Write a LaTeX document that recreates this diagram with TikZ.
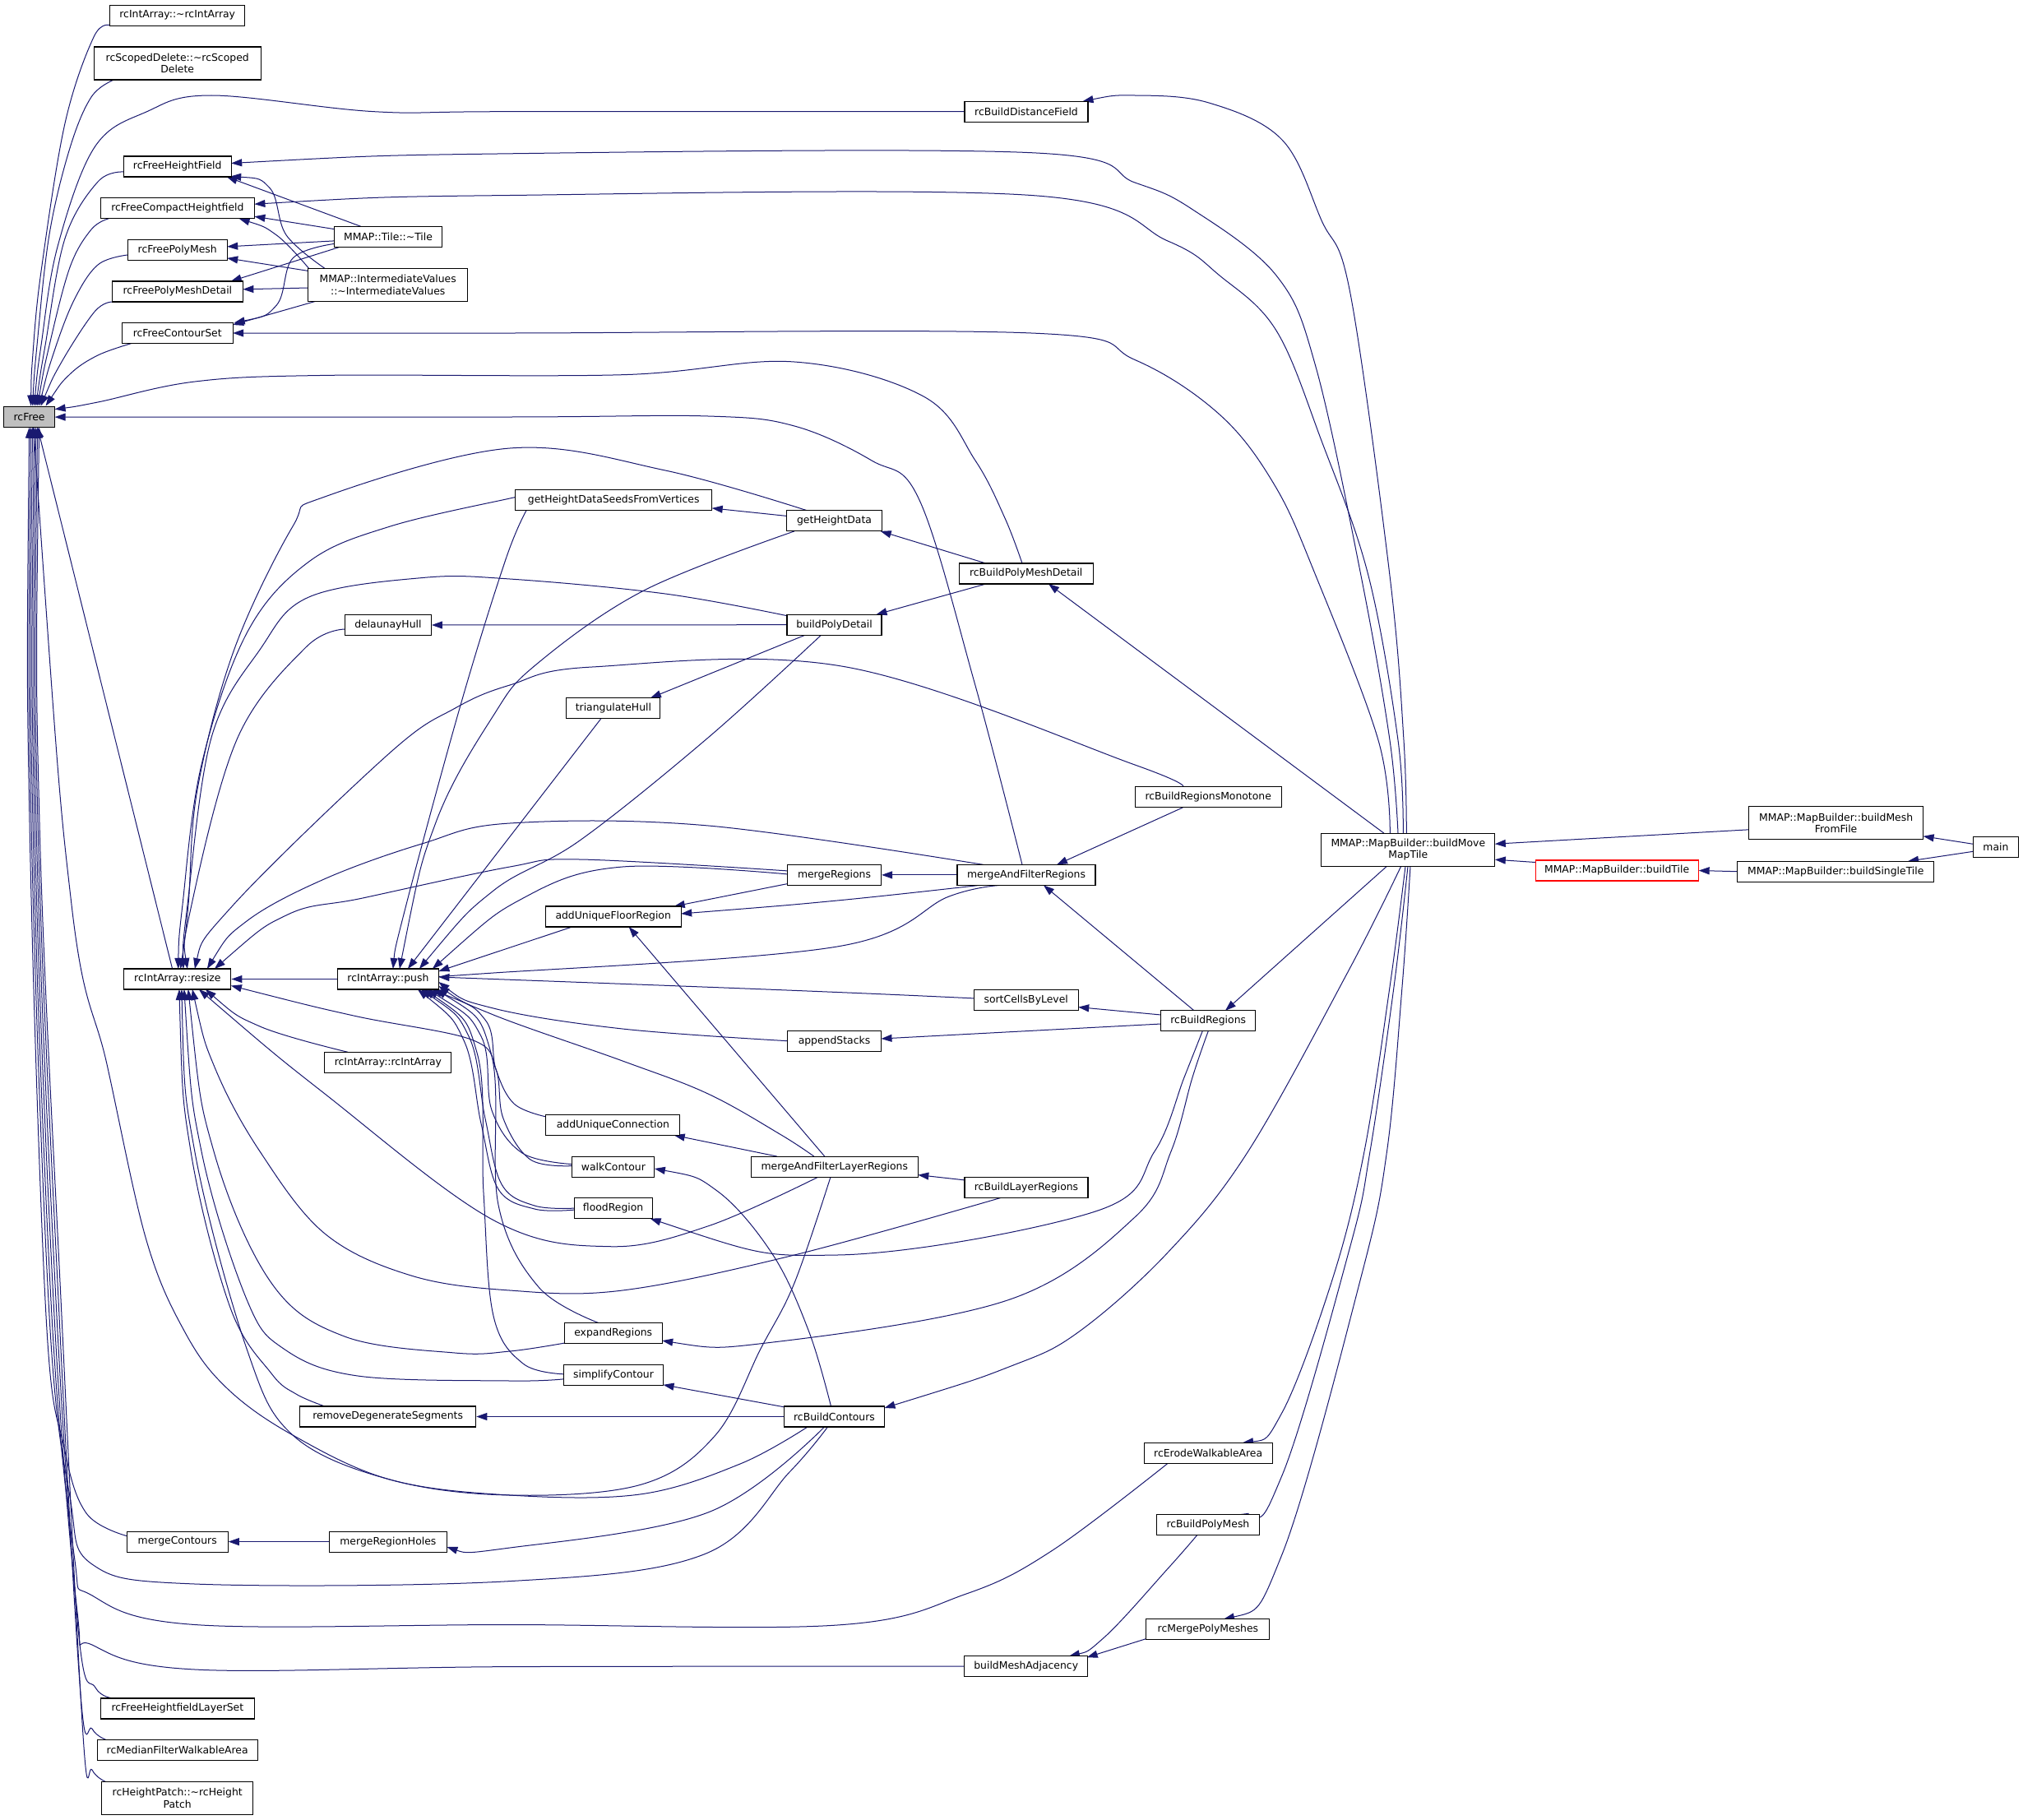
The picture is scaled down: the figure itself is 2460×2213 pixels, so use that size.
\documentclass[tikz,border=0pt]{standalone}
\usepackage{fontspec}
\newfontfamily\dvs{DejaVu Sans}
\usetikzlibrary{arrows.meta}
\definecolor{edgecol}{HTML}{191970}
\definecolor{boxfill}{HTML}{BFBFBF}
\pgfdeclarelayer{bg}
\pgfsetlayers{bg,main}
\begin{document}
\begin{tikzpicture}[x=1pt,y=-1pt,
  box/.style={draw=black, line width=1.1pt, fill=white, inner sep=0pt, minimum height=25pt, align=center, font=\dvs\fontsize{12.4}{14.6}\selectfont},
  cedge/.style={draw=edgecol, line width=1pt, line join=round, {Triangle[length=13pt,width=9pt]}-},
  sm/.style={smooth, tension=0.6}
]
\useasboundingbox (0,0) rectangle (2460,2213);

% nodes
\node[box,fill=boxfill,minimum width=62pt] (rcFree) at (35.6,506.6) {rcFree};
\node[box,minimum width=164pt] (dtorIA) at (215.7,18.6) {rcIntArray::\textasciitilde rcIntArray};
\node[box,minimum width=203pt,minimum height=40pt] (dtorSD) at (215.7,77) {rcScopedDelete::\textasciitilde rcScoped\\Delete};
\node[box,minimum width=131pt] (fHF) at (215.7,202.5) {rcFreeHeightField};
\node[box,minimum width=187pt] (fCHF) at (215.9,253.2) {rcFreeCompactHeightfield};
\node[box,minimum width=121pt] (fPM) at (215.7,303.9) {rcFreePolyMesh};
\node[box,minimum width=159pt] (fPMD) at (215.9,354.5) {rcFreePolyMeshDetail};
\node[box,minimum width=135pt] (fCS) at (215.7,405) {rcFreeContourSet};
\node[box,minimum width=131pt] (tile) at (472,287.9) {MMAP::Tile::\textasciitilde Tile};
\node[box,minimum width=194pt,minimum height=40pt] (iv) at (471.7,346.4) {MMAP::IntermediateValues\\::\textasciitilde IntermediateValues};
\node[box,minimum width=150pt] (bDF) at (1248,135.7) {rcBuildDistanceField};
\node[box,minimum width=239pt] (ghds) at (746.2,607.9) {getHeightDataSeedsFromVertices};
\node[box,minimum width=116pt] (ghd) at (1014.5,633.4) {getHeightData};
\node[box,minimum width=163pt] (bPMD) at (1247.7,697.5) {rcBuildPolyMeshDetail};
\node[box,minimum width=105pt] (dH) at (471.9,760) {delaunayHull};
\node[box,minimum width=115pt] (bPD) at (1014.5,759.7) {buildPolyDetail};
\node[box,minimum width=114pt] (tH) at (745.9,861.2) {triangulateHull};
\node[box,minimum width=178pt] (bRM) at (1469.2,969.3) {rcBuildRegionsMonotone};
\node[box,minimum width=114pt] (mR) at (1014.5,1063.9) {mergeRegions};
\node[box,minimum width=168pt] (mAFR) at (1248,1063.9) {mergeAndFilterRegions};
\node[box,minimum width=165pt] (aUFR) at (745.7,1114.5) {addUniqueFloorRegion};
\node[box,minimum width=130pt] (resize) at (215.9,1190.5) {rcIntArray::resize};
\node[box,minimum width=123pt] (push) at (471.9,1190.5) {rcIntArray::push};
\node[box,minimum width=127pt] (sCBL) at (1247.7,1215.9) {sortCellsByLevel};
\node[box,minimum width=115pt] (bR) at (1469.2,1241.3) {rcBuildRegions};
\node[box,minimum width=114pt] (aS) at (1014.5,1266.4) {appendStacks};
\node[box,minimum width=154pt] (ctor) at (471.9,1291.8) {rcIntArray::rcIntArray};
\node[box,minimum width=163pt] (aUC) at (745.4,1367.9) {addUniqueConnection};
\node[box,minimum width=100pt] (wC) at (745.9,1418.6) {walkContour};
\node[box,minimum width=203pt] (mAFLR) at (1014.8,1418.6) {mergeAndFilterLayerRegions};
\node[box,minimum width=150pt] (bLR) at (1248,1443.9) {rcBuildLayerRegions};
\node[box,minimum width=95pt] (fR) at (745.6,1469.1) {floodRegion};
\node[box,minimum width=119pt] (eR) at (745.7,1621.1) {expandRegions};
\node[box,minimum width=121pt] (sC) at (746,1671.8) {simplifyContour};
\node[box,minimum width=214pt] (rDS) at (471.7,1722.5) {removeDegenerateSegments};
\node[box,minimum width=122pt] (bC) at (1014.5,1722.5) {rcBuildContours};
\node[box,minimum width=156pt] (eWA) at (1469.2,1766.7) {rcErodeWalkableArea};
\node[box,minimum width=125pt] (bPM) at (1468.9,1854) {rcBuildPolyMesh};
\node[box,minimum width=123pt] (mC) at (215.7,1874.6) {mergeContours};
\node[box,minimum width=143pt] (mRH) at (471.9,1874.6) {mergeRegionHoles};
\node[box,minimum width=150pt] (mPM) at (1468.9,1981.2) {rcMergePolyMeshes};
\node[box,minimum width=150pt] (bMA) at (1247.7,2026.2) {buildMeshAdjacency};
\node[box,minimum width=187pt] (fHLS) at (215.9,2077.5) {rcFreeHeightfieldLayerSet};
\node[box,minimum width=195pt] (mFWA) at (215.7,2127.7) {rcMedianFilterWalkableArea};
\node[box,minimum width=184pt,minimum height=40pt] (hP) at (215.7,2186.5) {rcHeightPatch::\textasciitilde rcHeight\\Patch};
\node[box,minimum width=211pt,minimum height=40pt] (bMMT) at (1712.3,1033.2) {MMAP::MapBuilder::buildMove\\MapTile};
\node[box,draw=red,minimum width=198pt] (bT) at (1966.1,1058.5) {MMAP::MapBuilder::buildTile};
\node[box,minimum width=212pt,minimum height=40pt] (bMFF) at (2232.6,1000.8) {MMAP::MapBuilder::buildMesh\\FromFile};
\node[box,minimum width=239pt] (bST) at (2232.3,1059.7) {MMAP::MapBuilder::buildSingleTile};
\node[box,minimum width=55pt] (main) at (2426.9,1030.3) {main};

\begin{pgfonlayer}{bg}
\fill[white] (0,0) rectangle (2460,2213);
% ---- rcFree callers
\draw[cedge] plot[sm] coordinates {([shift={(2,-13)}]rcFree.center) (40,430) (50,330) (79,150) (114,45) ([shift={(-81,12.5)}]dtorIA.center)};
\draw[cedge] plot[sm] coordinates {([shift={(4,-13)}]rcFree.center) (45,420) (60,285) (85,180) (111,118) ([shift={(-77,20)}]dtorSD.center)};
\draw[cedge] plot[sm] coordinates {([shift={(6,-13)}]rcFree.center) (50,420) (70,300) (115,179) (178,136) (257,116) (455,135.7) (620,135.7) ([shift={(-75,0)}]bDF.center)};
\draw[cedge] plot[sm] coordinates {([shift={(8,-13)}]rcFree.center) (55,420) (79,290) (119,221) ([shift={(-65.4,6.5)}]fHF.center)};
\draw[cedge] plot[sm] coordinates {([shift={(10,-13)}]rcFree.center) (60,420) (85,325) (111,279) ([shift={(-83.4,12.5)}]fCHF.center)};
\draw[cedge] plot[sm] coordinates {([shift={(12,-13)}]rcFree.center) (65,430) (90,365) (119,322) ([shift={(-60.7,6.1)}]fPM.center)};
\draw[cedge] plot[sm] coordinates {([shift={(14,-13)}]rcFree.center) (75,440) (115,379) ([shift={(-79.5,12.5)}]fPMD.center)};
\draw[cedge] plot[sm] coordinates {([shift={(20,-13)}]rcFree.center) (85,455) (119,432) ([shift={(-55.7,12.5)}]fCS.center)};
\draw[cedge] plot[sm] coordinates {([shift={(31,-9)}]rcFree.center) (119,489) (237,464) (395,456.4) (757,455.7) (966,440) (1123,482) (1186,560) (1222,630) ([shift={(-4.7,-12.5)}]bPMD.center)};
\draw[cedge] plot[sm] coordinates {([shift={(31,0.5)}]rcFree.center) (620,507) (861,506) (966,518) (1060,560) (1118,608) (1185,830) ([shift={(-5,-12.5)}]mAFR.center)};
\draw[cedge] ([shift={(10,13)}]rcFree.center) -- ([shift={(-6.3,-12.5)}]resize.center);
\draw[cedge] plot[sm] coordinates {([shift={(0,13)}]rcFree.center) (36,1000) (56,1600) (78,1760) (105,1840) ([shift={(-61.5,-7)}]mC.center)};
\draw[cedge] plot[sm] coordinates {([shift={(2,13)}]rcFree.center) (38,1000) (60,1600) (85,1820) (112,1902) (237,1926) (620,1922.6) (856,1890) (960,1790) ([shift={(-8,12.5)}]bC.center)};
\draw[cedge] plot[sm] coordinates {([shift={(4,13)}]rcFree.center) (40,1000) (63,1600) (90,1890) (112,1940) (237,1975.5) (620,1975.5) (1018,1976) (1175,1938) (1280,1885) ([shift={(-49,12.5)}]eWA.center)};
\draw[cedge] plot[sm] coordinates {([shift={(6,13)}]rcFree.center) (42,1000) (66,1600) (94,1960) (112,2000) (237,2030) (620,2026.6) ([shift={(-75,0)}]bMA.center)};
\draw[cedge] plot[sm] coordinates {([shift={(8,13)}]rcFree.center) (44,1000) (69,1600) (96,1990) (116,2052) ([shift={(-77.5,-12.5)}]fHLS.center)};
\draw[cedge] plot[sm] coordinates {([shift={(10,13)}]rcFree.center) (46,1000) (72,1600) (98,2060) (112,2102) ([shift={(-87.2,-12.5)}]mFWA.center)};
\draw[cedge] plot[sm] coordinates {([shift={(12,13)}]rcFree.center) (48,1000) (75,1600) (101,2110) (112,2152) ([shift={(-87.2,-20)}]hP.center)};
\draw[cedge] plot[sm] coordinates {([shift={(5,13)}]rcFree.center) (87,1100) (130,1294) (178,1508) (225,1620) (276,1688) (356,1745) (474,1799) (620,1818) (780,1805) (870,1745) (925,1640) (966,1560) ([shift={(-4.8,12.5)}]mAFLR.center)};
% ---- resize callers
\draw[cedge] (resize.east) -- (push.west);
\draw[cedge] plot[sm] coordinates {([shift={(34,12.5)}]resize.center) (316,1248) ([shift={(-48.9,-12.5)}]ctor.center)};
\draw[cedge] plot[sm] coordinates {([shift={(26,12.5)}]resize.center) (395,1330) (600,1483.6) (741,1515.7) (861.5,1490.7) ([shift={(-19.8,12.5)}]mAFLR.center)};
\draw[cedge] plot[sm] coordinates {([shift={(18,12.5)}]resize.center) (262,1300) (316,1400) (395,1500) (500,1551) (620,1569) (757,1569) (966,1526) ([shift={(-31,12.5)}]bLR.center)};
\draw[cedge] plot[sm] coordinates {([shift={(13,12.5)}]resize.center) (260,1400) (330,1560) (419,1625) (553,1645) (620,1643) ([shift={(-59.5,12)}]eR.center)};
\draw[cedge] plot[sm] coordinates {([shift={(8,12.5)}]resize.center) (245,1400) (300,1580) (345,1640) (435,1673) (620,1679) ([shift={(-60.5,5)}]sC.center)};
\draw[cedge] plot[sm] coordinates {([shift={(2,12.5)}]resize.center) (232,1400) (280,1590) (330,1670) (360,1695) ([shift={(-76.7,-12.5)}]rDS.center)};
\draw[cedge] plot[sm] coordinates {([shift={(5,12.5)}]resize.center) (237,1401) (300,1640) (356,1745) (474,1799) (620,1818) (778,1817) (900,1780) ([shift={(-32.5,12.5)}]bC.center)};
\draw[cedge] plot[sm] coordinates {([shift={(0.8,-12.5)}]resize.center) (222,1100) (245,930) (300,770) (375.6,683) (474.5,640) (620,606) ([shift={(-119.5,-2)}]ghds.center)};
\draw[cedge] plot[sm] coordinates {([shift={(3.6,-12.5)}]resize.center) (229,1100) (240,960) (284.7,790) (356,640) (395,604) (620,545) (809,572) ([shift={(-32.7,-12.5)}]ghd.center)};
\draw[cedge] plot[sm] coordinates {([shift={(7,-12.5)}]resize.center) (228,1100) (257,897) (316,790) (375.6,726) (514,702.5) (620,704) (809,722) ([shift={(-57.5,-11)}]bPD.center)};
\draw[cedge] plot[sm] coordinates {([shift={(12,-12.5)}]resize.center) (233,1100) (289,897) (372,787) ([shift={(-52.5,5)}]dH.center)};
\draw[cedge] plot[sm] coordinates {([shift={(21,-12.5)}]resize.center) (284,1100) (474.5,915) (553.6,861) (620,833) (720,811) (1029,811) (1380,930) ([shift={(-30.7,-12.5)}]bRM.center)};
\draw[cedge] plot[sm] coordinates {([shift={(36,-12.5)}]resize.center) (300,1120) (395,1068.6) (514,1025.7) (620,1001) (861.5,1004) ([shift={(-52,-12.5)}]mAFR.center)};
\draw[cedge] plot[sm] coordinates {([shift={(45,-12.5)}]resize.center) (350,1112) (441,1092) (620,1054) (705,1045) ([shift={(-57,-5)}]mR.center)};
\draw[cedge] plot[sm] coordinates {([shift={(65,8)}]resize.center) (430,1235) (573,1264) (603,1300) (612,1360) (645,1410) ([shift={(-50,-1)}]wC.center)};
% ---- push callers
\draw[cedge] plot[sm] coordinates {([shift={(6,-12.5)}]push.center) (494,1100) (561,854) (615,680) ([shift={(-106,12.5)}]ghds.center)};
\draw[cedge] plot[sm] coordinates {([shift={(14,-12.5)}]push.center) (530,1000) (600,870) (652,808) (783,718) ([shift={(-48.5,12.5)}]ghd.center)};
\draw[cedge] ([shift={(24,-12.5)}]push.center) -- ([shift={(-15,12.5)}]tH.center);
\draw[cedge] plot[sm] coordinates {([shift={(38,-12.5)}]push.center) (600,1083) (705,1022) (861,897) ([shift={(-16,12.5)}]bPD.center)};
\draw[cedge] plot[sm] coordinates {([shift={(54,-12.5)}]push.center) (640,1090) (757,1054) ([shift={(-57,-1)}]mR.center)};
\draw[cedge] ([shift={(61.5,-9.5)}]push.center) -- ([shift={(-50,12.5)}]aUFR.center);
\draw[cedge] plot[sm] coordinates {([shift={(61.5,-6.5)}]push.center) (600,1183) (1018,1151) (1154,1090) ([shift={(-31,12.5)}]mAFR.center)};
\draw[cedge] ([shift={(61.5,-2.5)}]push.center) .. controls (800,1198) and (1000,1205) .. ([shift={(-63.5,-2)}]sCBL.center);
\draw[cedge] plot[sm] coordinates {([shift={(61.5,3.5)}]push.center) (600,1226) (757,1251) ([shift={(-57,-0.7)}]aS.center)};
\draw[cedge] plot[sm] coordinates {([shift={(61.5,8.5)}]push.center) (600,1234) (757,1290) (861,1330) (950,1380) ([shift={(-25,-12.5)}]mAFLR.center)};
\draw[cedge] plot[sm] coordinates {([shift={(53,12.5)}]push.center) (590,1240) (603,1300) (625,1342) ([shift={(-81.5,-10)}]aUC.center)};
\draw[cedge] plot[sm] coordinates {([shift={(48,12.5)}]push.center) (585,1260) (598,1350) (635,1402) ([shift={(-50,-3)}]wC.center)};
\draw[cedge] plot[sm] coordinates {([shift={(40,12.5)}]push.center) (570,1260) (590,1360) (610,1440) (650,1466) ([shift={(-47.5,0)}]fR.center)};
\draw[cedge] plot[sm] coordinates {([shift={(36,12.5)}]push.center) (564,1265) (585,1366) (606,1446) (650,1470) ([shift={(-47.5,2)}]fR.center)};
\draw[cedge] plot[sm] coordinates {([shift={(58,12.5)}]push.center) (597,1280) (606,1465) (655,1565) ([shift={(-17.7,-12.5)}]eR.center)};
\draw[cedge] plot[sm] coordinates {([shift={(44,12.5)}]push.center) (580,1280) (588,1450) (600,1600) (636,1658) ([shift={(-60.5,-1)}]sC.center)};
% ---- buildMoveMapTile callees
\draw[cedge] plot[sm] coordinates {([shift={(65.5,-4)}]fHF.center) (620,186.8) (1254,185.7) (1380,222) (1449,254) (1552,335) (1600,446) (1655,700) (1690,900) ([shift={(-12.3,-20)}]bMMT.center)};
\draw[cedge] plot[sm] coordinates {([shift={(93.5,-5)}]fCHF.center) (620,237.5) (1254,237.5) (1420,293) (1483,335) (1552,402) (1607,536) (1664,700) (1700,900) ([shift={(-6,-20)}]bMMT.center)};
\draw[cedge] plot[sm] coordinates {([shift={(67.5,0)}]fCS.center) (620,405) (1254,405) (1380,437.5) (1483,504) (1550,590) (1600,700) (1676,900) ([shift={(-22,-20)}]bMMT.center)};
\draw[cedge] plot[sm] coordinates {([shift={(68.5,-12.5)}]bDF.center) (1380,116) (1470,125) (1559,170) (1607,268) (1642,357) (1690,700) (1707,900) ([shift={(-2,-20)}]bMMT.center)};
\draw[cedge] ([shift={(27.3,12.5)}]bPMD.center) -- ([shift={(-29.3,-20)}]bMMT.center);
\draw[cedge] ([shift={(20.8,-12.5)}]bR.center) -- ([shift={(-25.8,20)}]bMMT.center);
\draw[cedge] plot[sm] coordinates {([shift={(61,-10.5)}]bC.center) (1228,1661.6) (1311,1620) (1420,1523) (1517.7,1400) (1640,1180) ([shift={(-8.6,20)}]bMMT.center)};
\draw[cedge] plot[sm] coordinates {([shift={(41.8,-12.5)}]eWA.center) (1559,1717.6) (1621,1553) (1659,1400) (1690,1200) ([shift={(-3.3,20)}]bMMT.center)};
\draw[cedge] plot[sm] coordinates {([shift={(36.1,-12.5)}]bPM.center) (1559,1794) (1642,1515) (1666,1400) (1695,1200) ([shift={(-0.3,20)}]bMMT.center)};
\draw[cedge] plot[sm] coordinates {([shift={(19.1,-12.5)}]mPM.center) (1559,1890) (1655,1553) (1686.5,1400) (1705,1200) ([shift={(2.7,20)}]bMMT.center)};
\draw[cedge] ([shift={(105.5,-7)}]bMMT.center) -- ([shift={(-106,8)}]bMFF.center);
\draw[cedge] ([shift={(105.5,12)}]bMMT.center) -- ([shift={(-99,-10)}]bT.center);
\draw[cedge] (bT.east) -- (bST.west);
\draw[cedge] ([shift={(106,16)}]bMFF.center) -- ([shift={(-27.5,-4)}]main.center);
\draw[cedge] ([shift={(87.7,-12.5)}]bST.center) -- ([shift={(-27.5,5)}]main.center);
% ---- misc
\draw[cedge] plot[sm] coordinates {([shift={(52.3,-12.5)}]bMA.center) (1343,1990.7) (1420,1907.4) ([shift={(-13.1,12.5)}]bPM.center)};
\draw[cedge] ([shift={(74,-11)}]bMA.center) -- ([shift={(-73.9,11)}]mPM.center);
\draw[cedge] ([shift={(63.5,8.7)}]sCBL.center) -- ([shift={(-57.5,-7.3)}]bR.center);
\draw[cedge] ([shift={(57,-3.4)}]aS.center) -- ([shift={(-57.5,3.7)}]bR.center);
\draw[cedge] ([shift={(21,12.5)}]mAFR.center) -- ([shift={(-17.2,-12.5)}]bR.center);
\draw[cedge] plot[sm] coordinates {([shift={(45,12.5)}]fR.center) (1018,1526) (1332,1473) (1404,1400) (1440,1310) ([shift={(-7,12.5)}]bR.center)};
\draw[cedge] plot[sm] coordinates {([shift={(59.5,9)}]eR.center) (940,1632) (1228,1580) (1380,1480) (1424,1400) (1450,1310) ([shift={(0,12.5)}]bR.center)};
\draw[cedge] (mR.east) -- (mAFR.west);
\draw[cedge] ([shift={(37,-12.5)}]mAFR.center) -- ([shift={(-30.7,12.5)}]bRM.center);
\draw[cedge] ([shift={(74,-12.5)}]aUFR.center) -- ([shift={(-57,10.7)}]mR.center);
\draw[cedge] plot[sm] coordinates {([shift={(82.5,-3.5)}]aUFR.center) (1018,1095) ([shift={(-57,12.5)}]mAFR.center)};
\draw[cedge] ([shift={(19,12.5)}]aUFR.center) -- ([shift={(-12,-12.5)}]mAFLR.center);
\draw[cedge] ([shift={(56.2,12.5)}]ghd.center) -- ([shift={(-48.8,-12.5)}]bPMD.center);
\draw[cedge] ([shift={(51,-12.5)}]bPD.center) -- ([shift={(-48.8,12.5)}]bPMD.center);
\draw[cedge] ([shift={(119.5,10)}]ghds.center) -- ([shift={(-58,-6)}]ghd.center);
\draw[cedge] (dH.east) -- (bPD.west);
\draw[cedge] ([shift={(45,-12.5)}]tH.center) -- ([shift={(-35.5,12.5)}]bPD.center);
\draw[cedge] ([shift={(101.5,10)}]mAFLR.center) -- ([shift={(-75,-9)}]bLR.center);
\draw[cedge] ([shift={(74.3,12.5)}]aUC.center) -- ([shift={(-69.8,-12.5)}]mAFLR.center);
\draw[cedge] (rDS.east) -- (bC.west);
\draw[cedge] ([shift={(60.5,12)}]sC.center) -- ([shift={(-61,-11.7)}]bC.center);
\draw[cedge] plot[sm] coordinates {([shift={(50,2.4)}]wC.center) (872,1448) (940,1526) (984,1620) ([shift={(-4,-12.5)}]bC.center)};
\draw[cedge] plot[sm] coordinates {([shift={(71.5,6.4)}]mRH.center) (620,1882) (861,1839) ([shift={(-12,12.5)}]bC.center)};
\draw[cedge] (mC.east) -- (mRH.west);
% ---- Tile / IntermediateValues
\draw[cedge] ([shift={(60,12.5)}]fHF.center) -- ([shift={(-33,-12.5)}]tile.center);
\draw[cedge] plot[sm] coordinates {([shift={(64.5,12)}]fHF.center) (328,228.6) (348,285.7) ([shift={(-76.7,-20)}]iv.center)};
\draw[cedge] ([shift={(93.5,10)}]fCHF.center) -- ([shift={(-65.5,-9.3)}]tile.center);
\draw[cedge] plot[sm] coordinates {([shift={(74.7,12.5)}]fCHF.center) (336,285.7) ([shift={(-96.1,-20)}]iv.center)};
\draw[cedge] ([shift={(60.5,-4)}]fPM.center) -- ([shift={(-65.5,5)}]tile.center);
\draw[cedge] ([shift={(60.5,10)}]fPM.center) -- ([shift={(-97,-17)}]iv.center);
\draw[cedge] ([shift={(64.8,-12.5)}]fPMD.center) -- ([shift={(-59,12.5)}]tile.center);
\draw[cedge] ([shift={(79.5,-2.7)}]fPMD.center) -- ([shift={(-97,3.6)}]iv.center);
\draw[cedge] plot[sm] coordinates {([shift={(69,-12.5)}]fCS.center) (336,371.4) (356,314) ([shift={(-65.5,8.5)}]tile.center)};
\draw[cedge] ([shift={(67.5,-10)}]fCS.center) -- ([shift={(-88.2,20)}]iv.center);
\end{pgfonlayer}
\end{tikzpicture}
\end{document}
